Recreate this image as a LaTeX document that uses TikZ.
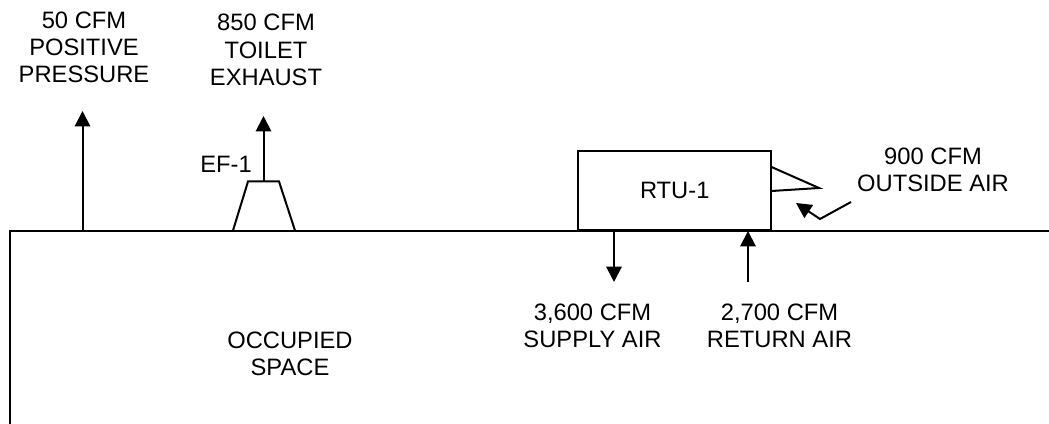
\documentclass[tikz,border=0pt]{standalone}
\usepackage{fontspec}
\setmainfont{Liberation Sans}
\usetikzlibrary{positioning, arrows.meta}

\begin{document}
\begin{tikzpicture}[
        x=0.75pt, y=-0.75pt,
        every node/.style={align=center, font=\fontsize{17.8pt}{20.4pt}\selectfont, text=black},
        unitbox/.style={draw=black, rectangle, line width=1.5pt, inner sep=0pt, minimum width=145pt, minimum height=59.6pt},
        line/.style={draw=black, line width=1.5pt},
        arrow/.style={line, -{Triangle[width=11.5pt, length=11.5pt]}}
    ]
    \useasboundingbox (0,0) rectangle (1049,424);

    % 1. Roof and wall of the space
    \coordinate (wallbottom) at (9.5,424);
    \coordinate (wallcorner) at (9.5,230.5);
    \coordinate (wallend) at (1049,230.5);
    \draw[line] (wallbottom) -- (wallcorner) -- (wallend);
    \node (space) at (290,353.5) {OCCUPIED\\SPACE};

    % 2. Positive pressure
    \coordinate (reliefbase) at (82.5,230.5);
    \coordinate (relieftip) at (82.5,111);
    \draw[arrow] (reliefbase) -- (relieftip);
    \node (relief) at (84,47.5) {50 CFM\\POSITIVE\\PRESSURE};

    % 3. Exhaust fan
    \coordinate (fanA) at (233,230.5);
    \coordinate (fanB) at (248,181.5);
    \coordinate (fanC) at (279,181.5);
    \coordinate (fanD) at (295,230.5);
    \coordinate (fantop) at (263.5,181.5);
    \coordinate (fantip) at (263.5,116);
    \draw[line] (fanA) -- (fanB) -- (fanC) -- (fanD);
    \draw[arrow] (fantop) -- (fantip);
    \node (fan) at (226,164) {EF-1};
    \node (exhaust) at (266,50) {850 CFM\\TOILET\\EXHAUST};

    % 4. Rooftop unit
    \node[unitbox] (rtu) at (674.75,190.5) {RTU-1};
    \coordinate (hoodA) at (771.5,167);
    \coordinate (hoodB) at (819,188);
    \coordinate (hoodC) at (771.5,191);
    \draw[line] (hoodA) -- (hoodB) -- (hoodC);

    % 5. Outside air
    \node (outside) at (933,170) {900 CFM\\OUTSIDE AIR};
    \coordinate (oaA) at (851,202);
    \coordinate (oaB) at (820,219);
    \coordinate (oaC) at (796,203);
    \draw[arrow] (oaA) -- (oaB) -- (oaC);

    % 6. Supply and return
    \coordinate (supplybase) at (614,230.5);
    \coordinate (supplytip) at (614,282);
    \coordinate (returnbase) at (748,282);
    \coordinate (returntip) at (748,231);
    \draw[arrow] (supplybase) -- (supplytip);
    \draw[arrow] (returnbase) -- (returntip);
    \node (supply) at (592.5,325.5) {3,600 CFM\\SUPPLY AIR};
    \node (return) at (779.5,325.5) {2,700 CFM\\RETURN AIR};

    \end{tikzpicture}
\end{document}
